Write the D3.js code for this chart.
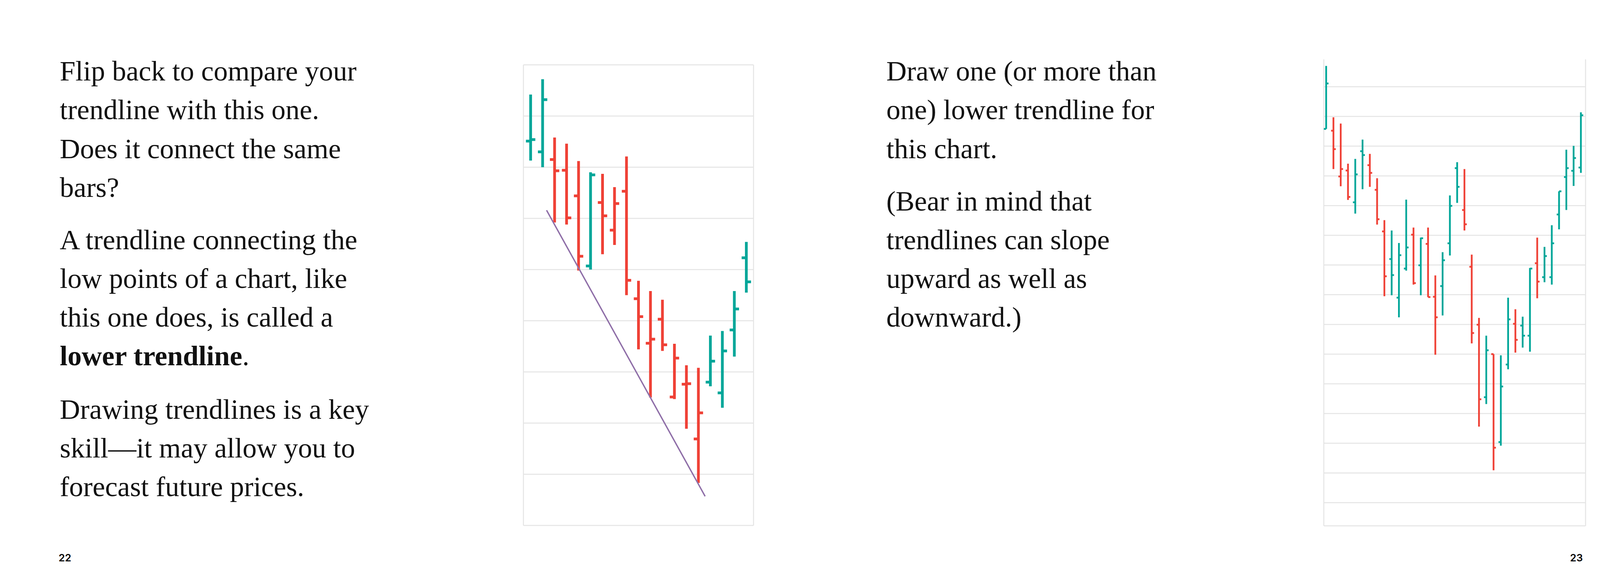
<!DOCTYPE html>
<html>
<head>
<meta charset="utf-8">
<script src="https://cdn.jsdelivr.net/npm/d3@7"></script>
<style>
  html, body { margin: 0; background: #fff; overflow: hidden; width: 4200px; height: 1500px; }
  svg { display: block; }
</style>
</head>
<body>
<div id="page"></div>
<script>
// left chart: high, low, open, close, up/down colour (in gridline units)
const leftHigh  = [8.42, 8.72, 7.58, 7.46, 7.12, 6.90, 6.87, 6.61, 7.21, 4.78, 4.58, 4.41, 3.55, 3.13, 3.08, 3.71, 3.80, 4.58, 5.54];
const leftLow   = [7.13, 7.00, 5.92, 5.88, 4.98, 5.00, 5.30, 5.48, 4.50, 3.44, 2.50, 3.41, 2.47, 1.89, 0.83, 2.72, 2.30, 3.30, 4.55];
const leftOpen  = [7.51, 7.30, 7.15, 6.94, 6.44, 5.07, 6.31, 5.77, 6.53, 4.43, 3.56, 4.03, 2.51, 2.76, 1.69, 2.80, 2.59, 3.82, 5.23];
const leftClose = [7.54, 8.32, 6.93, 6.01, 5.26, 6.85, 6.05, 6.29, 4.79, 4.08, 3.64, 3.53, 3.27, 2.77, 2.20, 3.21, 3.41, 4.23, 4.76];
const leftUp    = [1, 1, 0, 0, 0, 1, 0, 0, 0, 0, 0, 0, 0, 0, 0, 1, 1, 1, 1];
const trendIdx  = [1.33, 14.56];
const trendVal  = [6.16, 0.57];

// right chart
const rightHigh  = [15.70, 13.97, 13.76, 12.41, 12.57, 13.22, 12.74, 11.92, 10.51, 10.16, 9.74, 11.20, 10.26, 9.92, 10.26, 8.65, 9.43, 11.34, 12.46, 12.23, 9.35, 7.22, 6.62, 6.00, 5.96, 7.90, 7.51, 7.26, 8.90, 9.92, 9.61, 10.34, 11.48, 12.88, 13.01, 14.14];
const rightLow   = [13.58, 12.23, 11.65, 11.19, 10.73, 11.55, 11.63, 10.36, 7.95, 7.98, 7.24, 8.81, 8.34, 7.98, 7.92, 5.98, 7.30, 9.32, 11.09, 10.16, 6.36, 3.56, 4.32, 2.09, 2.92, 5.49, 6.05, 6.22, 6.08, 7.88, 8.42, 8.34, 10.20, 10.85, 11.66, 12.10];
const rightOpen  = [13.58, 13.52, 11.98, 12.18, 11.11, 12.83, 12.36, 11.53, 10.13, 9.20, 7.90, 8.88, 10.02, 8.99, 9.71, 7.93, 8.29, 9.73, 12.26, 10.85, 8.94, 6.99, 4.55, 6.00, 3.04, 5.65, 7.02, 6.96, 6.62, 9.06, 8.59, 8.59, 10.70, 11.96, 12.17, 12.28];
const rightClose = [15.11, 12.90, 12.23, 11.29, 12.05, 12.70, 12.10, 10.54, 8.62, 8.66, 9.33, 9.59, 8.39, 9.90, 7.92, 7.24, 9.16, 10.99, 11.63, 10.37, 6.71, 4.48, 6.13, 2.85, 4.91, 7.17, 6.48, 6.62, 8.88, 8.44, 9.30, 9.73, 11.48, 12.26, 12.60, 14.04];
const rightUp    = [1, 0, 0, 0, 1, 1, 0, 0, 0, 1, 1, 1, 0, 1, 0, 0, 1, 1, 1, 0, 0, 0, 1, 0, 1, 1, 0, 1, 1, 0, 1, 1, 1, 1, 1, 1];

const leftText = [
  ["Flip back to compare your", "trendline with this one.", "Does it connect the same", "bars?"],
  ["A trendline connecting the", "low points of a chart, like", "this one does, is called a", "<b>lower trendline</b>."],
  ["Drawing trendlines is a key", "skill\u2014it may allow you to", "forecast future prices."]
];
const rightText = [
  ["Draw one (or more than", "one) lower trendline for", "this chart."],
  ["(Bear in mind that", "trendlines can slope", "upward as well as", "downward.)"]
];

const UP = '#00a699', DOWN = '#ef4136', GRID = '#e4e4e4';

const svg = d3.select('#page').append('svg')
    .attr('width', 4200).attr('height', 1500)
    .style('font-family', '"Liberation Serif", serif');

function drawChart(o) {
    const g = svg.append('g');
    const x = d3.scaleLinear().domain(o.xDomain).range([o.left, o.right]);
    const y = d3.scaleLinear().domain(o.yDomain).range([o.bottom, o.top]);

    g.selectAll('line.grid')
        .data(d3.range(1, Math.floor(o.yDomain[1]) + 1))
        .enter().append('line')
        .attr('x1', o.left).attr('x2', o.right)
        .attr('y1', d => y(d)).attr('y2', d => y(d))
        .attr('stroke', GRID).attr('stroke-width', 2.5);
    [o.left, o.right].forEach(px => g.append('line')
        .attr('x1', px).attr('x2', px).attr('y1', o.top - o.frameTop).attr('y2', o.bottom)
        .attr('stroke', GRID).attr('stroke-width', 2.5));
    g.append('line').attr('x1', o.left).attr('x2', o.right)
        .attr('y1', o.bottom).attr('y2', o.bottom).attr('stroke', GRID).attr('stroke-width', 2.5);

    const data = o.high.map((h, i) => ({ i, h, l: o.low[i], op: o.open[i], c: o.close[i], up: o.up[i] }));
    const bars = g.selectAll('g.bar').data(data).enter().append('g')
        .attr('stroke', d => d.up ? UP : DOWN).attr('stroke-width', o.sw);
    bars.append('line')
        .attr('x1', d => x(d.i)).attr('x2', d => x(d.i))
        .attr('y1', d => y(d.h)).attr('y2', d => y(d.l));
    bars.append('line')
        .attr('x1', d => x(d.i) - o.tick).attr('x2', d => x(d.i))
        .attr('y1', d => y(d.op)).attr('y2', d => y(d.op));
    bars.append('line')
        .attr('x1', d => x(d.i)).attr('x2', d => x(d.i) + o.tick)
        .attr('y1', d => y(d.c)).attr('y2', d => y(d.c));
    return { x, y, g };
}

const L = drawChart({
    left: 1340, right: 1929, top: 166, bottom: 1345, frameTop: 0,
    xDomain: [-0.6, 18.6], yDomain: [0, 9],
    high: leftHigh, low: leftLow, open: leftOpen, close: leftClose, up: leftUp,
    sw: 7, tick: 12
});
L.g.append('line')
    .attr('x1', L.x(trendIdx[0])).attr('y1', L.y(trendVal[0]))
    .attr('x2', L.x(trendIdx[1])).attr('y2', L.y(trendVal[1]))
    .attr('stroke', '#8f6fa8').attr('stroke-width', 3.5);

drawChart({
    left: 3389, right: 4059, top: 222, bottom: 1346, frameTop: 70,
    xDomain: [-0.32, 35.64], yDomain: [0.22, 15],
    high: rightHigh, low: rightLow, open: rightOpen, close: rightClose, up: rightUp,
    sw: 4.5, tick: 6
});

function drawText(paras, x0, baselines) {
    let k = 0;
    paras.forEach(p => p.forEach(line => {
        const t = svg.append('text').attr('x', x0).attr('y', baselines[k++])
            .attr('font-size', 72).attr('fill', '#111');
        line.split(/(<b>.*?<\/b>)/).forEach(part => {
            if (!part) return;
            const bold = part.startsWith('<b>');
            t.append('tspan').attr('font-weight', bold ? 'bold' : 'normal')
                .text(part.replace(/<\/?b>/g, ''));
        });
    }));
}
drawText(leftText, 153, [206, 305, 405, 504, 638, 737, 836, 935, 1072, 1171, 1270]);
drawText(rightText, 2269, [206, 305, 405, 539, 638, 737, 836]);

svg.append('text').attr('x', 150).attr('y', 1437).text('22')
    .attr('font-family', 'Inter, sans-serif').attr('font-size', 26).attr('font-weight', 600);
svg.append('text').attr('x', 4052).attr('y', 1437).text('23').attr('text-anchor', 'end')
    .attr('font-family', 'Inter, sans-serif').attr('font-size', 26).attr('font-weight', 600);

svg.append('rect').attr('x', 4118).attr('y', 147).attr('width', 82).attr('height', 236).attr('fill', '#5c1a6b');
svg.append('text').attr('transform', 'translate(4162,268) rotate(-90)')
    .attr('text-anchor', 'middle').attr('fill', '#fff')
    .attr('font-family', 'Inter, sans-serif').attr('font-size', 28).attr('font-weight', 700)
    .text('One');
</script>
</body>
</html>
